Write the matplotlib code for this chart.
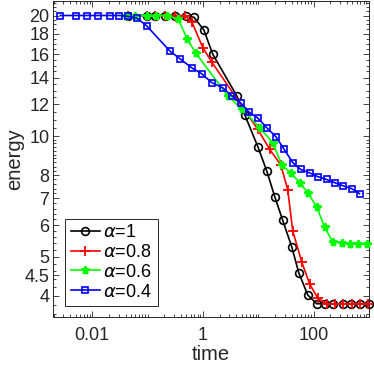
import matplotlib
matplotlib.use("Agg")
import matplotlib.pyplot as plt
from matplotlib.ticker import FixedLocator, NullFormatter
import numpy as np

plt.rcParams['font.family'] = ['Liberation Sans', 'DejaVu Sans']
plt.rcParams['mathtext.fontset'] = 'dejavusans'

# alpha = 1
t_a1 = [0.0445, 0.098, 0.136, 0.206, 0.313, 0.494, 0.689, 1.04, 1.51, 4.10, 5.71,
        9.80, 14.2, 19.8, 27.6, 40.2, 53.7, 78.0, 113, 158, 220, 333, 465, 675, 1000]
e_a1 = [20.0, 20.0, 20.0, 20.0, 20.0, 19.95, 19.8, 18.4, 16.0, 12.6, 11.3,
        9.42, 8.2, 7.07, 6.17, 5.3, 4.57, 4.02, 3.82, 3.82, 3.82, 3.82, 3.82, 3.82, 3.82]

# alpha = 0.8
t_a08 = [0.0445, 0.098, 0.136, 0.206, 0.313, 0.47, 0.634, 1.0, 1.45, 9.80, 16.1,
         25.4, 34.0, 41.9, 60.8, 84.7, 118, 171, 239, 333, 484, 675, 950]
e_a08 = [20.0, 20.0, 20.0, 20.0, 20.0, 20.0, 19.25, 16.6, 15.3, 10.4, 9.27,
         8.49, 7.36, 5.81, 4.86, 4.28, 3.95, 3.82, 3.82, 3.82, 3.82, 3.82, 3.82]

# alpha = 0.6
t_a06 = [0.041, 0.06, 0.098, 0.144, 0.22, 0.36, 0.515, 0.748, 2.82, 5.04, 10.6,
         18.2, 26.5, 38.5, 56.0, 78.0, 113, 158, 220, 320, 446, 621, 902]
e_a06 = [20.0, 20.0, 20.0, 20.0, 20.0, 19.6, 17.5, 16.1, 12.6, 11.7, 10.5,
         9.64, 8.49, 8.1, 7.66, 7.23, 6.67, 5.93, 5.46, 5.42, 5.39, 5.39, 5.37]

# alpha = 0.4
t_a04 = [0.00265, 0.00515, 0.00813, 0.0128, 0.0211, 0.0306, 0.0445, 0.0647, 0.098,
         0.254, 0.385, 0.634, 0.959, 1.45, 2.29, 3.33, 4.84, 6.74, 9.80, 14.2, 20.7,
         28.8, 41.9, 58.4, 84.7, 118, 171, 239, 333, 484, 675]
e_a04 = [20.0, 20.0, 20.0, 20.0, 20.0, 20.0, 19.9, 19.7, 18.8,
         16.3, 15.6, 14.8, 14.3, 13.6, 13.2, 12.6, 12.1, 11.5, 11.1, 10.5, 9.98,
         9.31, 8.59, 8.26, 8.1, 7.93, 7.80, 7.66, 7.53, 7.40, 7.19]

labels = [r'$\alpha$=1', r'$\alpha$=0.8', r'$\alpha$=0.6', r'$\alpha$=0.4']
yticks = [4, 4.5, 5, 6, 7, 8, 10, 12, 14, 16, 18, 20]
ytick_labels = ['4', '4.5', '5', '6', '7', '8', '10', '12', '14', '16', '18', '20']
xticks = [0.01, 1, 100]
xtick_labels = ['0.01', '1', '100']

fig = plt.figure(figsize=(3.74, 3.66), dpi=100)
ax = fig.add_axes([53.5 / 374, 49 / 366, (369 - 53.5) / 374, (366 - 49 - 0.5) / 366])

lw = 1.2
ax.plot(t_a1, e_a1, '-o', color='black', lw=lw, ms=5.6, mfc='none', mew=1.2,
        label=labels[0], clip_on=False, zorder=3)
ax.plot(t_a08, e_a08, '-+', color='red', lw=lw, ms=6.5, mew=1.3,
        label=labels[1], clip_on=False, zorder=4)
ax.plot(t_a06, e_a06, '-*', color='#00ff00', lw=lw, ms=5.8, mew=1.8,
        label=labels[2], clip_on=False, zorder=5)
ax.plot(t_a04, e_a04, '-s', color='blue', lw=lw, ms=4.6, mfc='none', mew=1.2,
        label=labels[3], clip_on=False, zorder=6)

ax.set_xscale('log')
ax.set_yscale('log')
ax.set_xlim(0.002, 1000)
ax.set_ylim(3.54, 21.8)

ax.yaxis.set_major_locator(FixedLocator(yticks))
ax.set_yticklabels(ytick_labels)
minor_y = [v for v in np.concatenate([np.arange(3.6, 10, 0.2), np.arange(10, 22, 0.5)])
           if all(abs(v - m) > 1e-6 for m in yticks)]
ax.yaxis.set_minor_locator(FixedLocator(minor_y))
ax.yaxis.set_minor_formatter(NullFormatter())

ax.xaxis.set_major_locator(FixedLocator(xticks))
ax.set_xticklabels(xtick_labels)
minor_x = []
for d in range(-3, 3):
    for s in range(2, 10):
        minor_x.append(s * 10.0 ** d)
minor_x += [0.1, 10]
ax.xaxis.set_minor_locator(FixedLocator(minor_x))
ax.xaxis.set_minor_formatter(NullFormatter())

ax.tick_params(which='both', direction='in', top=True, right=True, labelsize=13,
               colors='#262626', width=0.6)
ax.tick_params(axis='y', which='major', pad=3)
ax.tick_params(axis='x', which='major', pad=7)
ax.tick_params(which='major', length=4)
ax.tick_params(which='minor', length=2)
for sp in ax.spines.values():
    sp.set_linewidth(0.7)
    sp.set_color('#262626')

ax.set_xlabel('time', fontsize=14.5, color='#262626', labelpad=1)
ax.set_ylabel('energy', fontsize=14.5, color='#262626', labelpad=0)

leg = ax.legend(loc='lower left', bbox_to_anchor=(0.038, 0.035), borderaxespad=0,
                fontsize=13, handlelength=1.6, handletextpad=0.2, labelspacing=0.15,
                borderpad=0.3, fancybox=False, edgecolor='#262626', framealpha=1)
leg.get_frame().set_linewidth(0.7)

fig.savefig('out.png', dpi=100)
